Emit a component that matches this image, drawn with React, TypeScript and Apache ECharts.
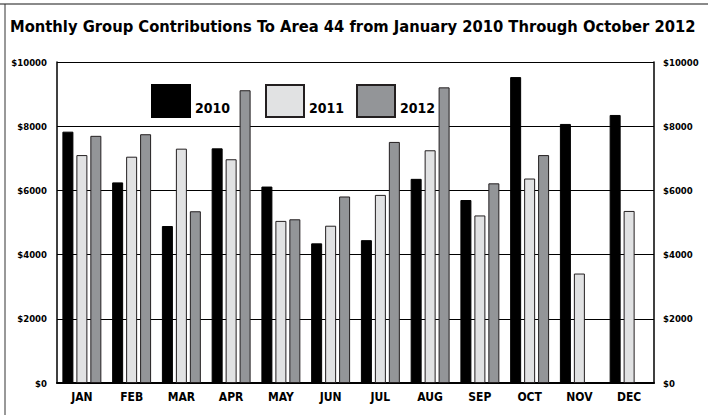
import React, { useEffect, useRef } from "react";
import * as echarts from "echarts";

const months = ["JAN", "FEB", "MAR", "APR", "MAY", "JUN", "JUL", "AUG", "SEP", "OCT", "NOV", "DEC"];
const s2010 = [7830, 6250, 4890, 7310, 6120, 4350, 4450, 6360, 5700, 9530, 8070, 8350];
const s2011 = [7100, 7050, 7300, 6970, 5050, 4900, 5860, 7250, 5220, 6370, 3410, 5360];
const s2012: (number | null)[] = [7700, 7750, 5350, 9120, 5100, 5810, 7510, 9210, 6220, 7100, null, null];
const seriesNames = ["2010", "2011", "2012"];
const titleText = "Monthly Group Contributions To Area 44 from January 2010 Through October 2012";

const FONT = "'DejaVu Sans Condensed', 'Liberation Sans Narrow', sans-serif";
const legendLefts = [151, 265, 356];

export default function App() {
  const ref = useRef<HTMLDivElement>(null);
  useEffect(() => {
    if (!ref.current) return;
    const chart = echarts.init(ref.current, null, { renderer: "svg" });
    const fmt = (v: number) => "$" + v;
    const barCommon = { type: "bar", barWidth: 11, barGap: "27%" };
    const legText = { fontFamily: FONT, fontWeight: "bold", fontSize: 14, color: "#000" };
    const legends = seriesNames.map((name, i) => ({
      left: legendLefts[i],
      top: 84,
      padding: 0,
      icon: "rect",
      itemWidth: 38,
      itemHeight: 32,
      z: 10,
      selectedMode: false,
      data: [name],
      formatter: "{a|{name}}",
      textStyle: { ...legText, rich: { a: { ...legText, padding: [13, 0, 0, 0] } } },
    }));
    chart.setOption({
      animation: false,
      backgroundColor: "#ffffff",
      textStyle: { fontFamily: FONT },
      title: {
        text: titleText,
        left: 10,
        top: 18,
        padding: 0,
        textStyle: { fontFamily: FONT, fontWeight: "bold", fontSize: 16.4, color: "#000" },
      },
      legend: legends,
      grid: { left: 57, right: 54, top: 62, bottom: 32 },
      xAxis: {
        type: "category",
        data: months,
        axisLine: { lineStyle: { color: "#000", width: 2 } },
        axisTick: { inside: true, length: 6, lineStyle: { color: "#000", width: 1 } },
        axisLabel: { margin: 8, fontFamily: FONT, fontWeight: "bold", fontSize: 12, color: "#000" },
      },
      yAxis: [
        {
          type: "value",
          min: 0,
          max: 10000,
          interval: 2000,
          axisLine: { show: true, lineStyle: { color: "#000", width: 1.5 } },
          axisTick: { show: false },
          splitLine: { lineStyle: { color: "#000", width: 1.2 } },
          axisLabel: { margin: 10, formatter: fmt, fontFamily: FONT, fontWeight: "bold", fontSize: 9.5, color: "#000" },
        },
        {
          type: "value",
          min: 0,
          max: 10000,
          interval: 2000,
          position: "right",
          axisLine: { show: true, lineStyle: { color: "#000", width: 1.5 } },
          axisTick: { show: false },
          splitLine: { show: false },
          axisLabel: { margin: 9, formatter: fmt, fontFamily: FONT, fontWeight: "bold", fontSize: 9.5, color: "#000" },
        },
      ],
      series: [
        { ...barCommon, name: seriesNames[0], data: s2010, itemStyle: { color: "#000000", borderColor: "#000", borderWidth: 1 } },
        { ...barCommon, name: seriesNames[1], data: s2011, itemStyle: { color: "#e1e2e3", borderColor: "#231f20", borderWidth: 1 } },
        { ...barCommon, name: seriesNames[2], data: s2012, itemStyle: { color: "#939598", borderColor: "#231f20", borderWidth: 1 } },
      ],
      graphic: [
        { type: "line", shape: { x1: 0, y1: 4, x2: 708, y2: 4 }, style: { stroke: "#8a8a8a", lineWidth: 2 } },
        { type: "line", shape: { x1: 5, y1: 4, x2: 5, y2: 415 }, style: { stroke: "#333", lineWidth: 1 } },
      ],
    });
    return () => chart.dispose();
  }, []);
  return (
    <div style={{ position: "fixed", left: 0, top: 0, width: 708, height: 415, background: "#fff" }}>
      <div ref={ref} style={{ width: 708, height: 415 }} />
    </div>
  );
}
